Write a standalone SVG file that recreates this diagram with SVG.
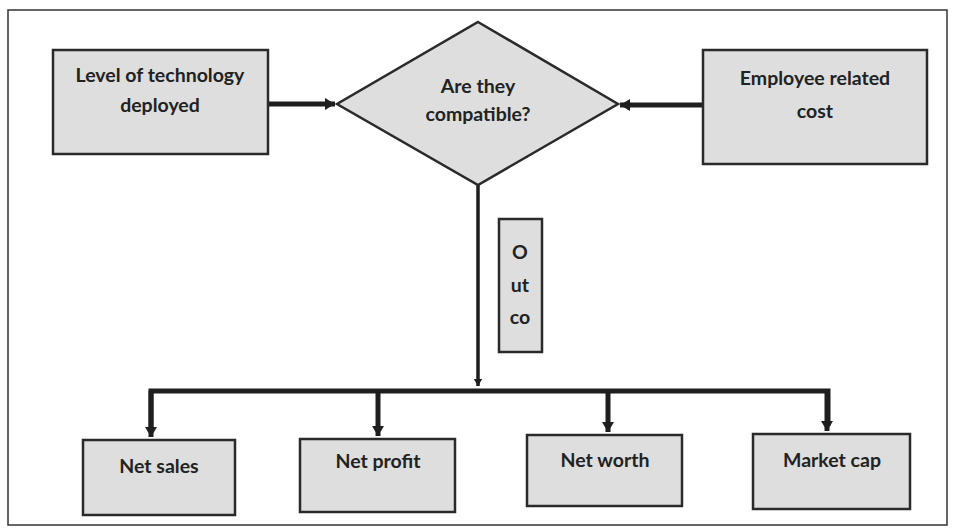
<svg xmlns="http://www.w3.org/2000/svg" width="955" height="529" viewBox="0 0 955 529">
<style>
.box{fill:#dedede;stroke:#2a2a2a;stroke-width:2.5}
.t{font-family:Lato,"Open Sans","Liberation Sans",sans-serif;font-weight:bold;font-size:19.5px;fill:#222;text-anchor:middle}
.thick{stroke:#1e1e1e;stroke-width:5;fill:none}
.thin{stroke:#1e1e1e;stroke-width:3.5;fill:none}
</style>
<defs>
<marker id="ah" markerWidth="3" markerHeight="3" refX="2" refY="1.5" orient="auto" markerUnits="strokeWidth">
<path d="M0,0.3 L2,1.5 L0,2.7 Z" fill="#1e1e1e"/>
</marker>
</defs>
<rect x="8" y="10" width="939" height="515" fill="#fff" stroke="#333" stroke-width="1.5"/>
<g id="connectors">
<line class="thick" x1="268" y1="104" x2="335" y2="104" marker-end="url(#ah)"/>
<line class="thick" x1="703" y1="105" x2="620" y2="105" marker-end="url(#ah)"/>
<line class="thin" x1="478" y1="184" x2="478" y2="386" marker-end="url(#ah)"/>
<polyline class="thick" points="151,432 151,391 828,391 828,426"/>
<line class="thick" x1="151" y1="391" x2="151" y2="437" marker-end="url(#ah)"/>
<line class="thick" x1="378" y1="391" x2="378" y2="436" marker-end="url(#ah)"/>
<line class="thick" x1="608" y1="391" x2="608" y2="432" marker-end="url(#ah)"/>
<line class="thick" x1="827" y1="391" x2="827" y2="431" marker-end="url(#ah)"/>
</g>
<g id="n-tech">
<rect class="box" x="53" y="50" width="215" height="104"/>
<text class="t" x="160" y="82">Level of technology</text>
<text class="t" x="160" y="112">deployed</text>
</g>
<g id="n-compat">
<polygon class="box" points="478,22 618,104 478,185 337,104"/>
<text class="t" x="478" y="93">Are they</text>
<text class="t" x="478" y="121">compatible?</text>
</g>
<g id="n-emp">
<rect class="box" x="703" y="50" width="224" height="114"/>
<text class="t" x="815" y="85">Employee related</text>
<text class="t" x="815" y="118">cost</text>
</g>
<g id="n-outco">
<rect class="box" x="499" y="219" width="43" height="133"/>
<text class="t" x="520" y="259">O</text>
<text class="t" x="520" y="292">ut</text>
<text class="t" x="520" y="324">co</text>
</g>
<g id="n-sales">
<rect class="box" x="83" y="440" width="152" height="75"/>
<text class="t" x="159" y="473">Net sales</text>
</g>
<g id="n-profit">
<rect class="box" x="300" y="439" width="155" height="73"/>
<text class="t" x="378" y="468">Net profit</text>
</g>
<g id="n-worth">
<rect class="box" x="527" y="435" width="155" height="71"/>
<text class="t" x="605" y="467">Net worth</text>
</g>
<g id="n-cap">
<rect class="box" x="753" y="434" width="157" height="75"/>
<text class="t" x="832" y="467">Market cap</text>
</g>
</svg>
